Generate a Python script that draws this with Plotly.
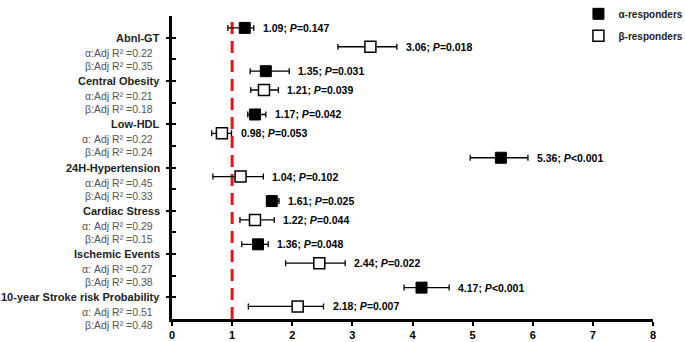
import plotly.graph_objects as go

# ---------------- data ----------------
categories = ["Abnl-GT", "Central Obesity", "Low-HDL", "24H-Hypertension",
              "Cardiac Stress", "Ischemic Events", "10-year Stroke risk Probability"]
cat_pos = [13, 11, 9, 7, 5, 3, 1]

alpha_r2 = ["α:Adj R² =0.22", "α:Adj R² =0.21", "α: Adj R² =0.22", "α:Adj R² =0.45",
            "α: Adj R² =0.29", "α: Adj R² =0.27", "α: Adj R² =0.51"]
beta_r2 = ["β:Adj R² =0.35", "β:Adj R² =0.18", "β:Adj R² =0.24", "β:Adj R² =0.33",
           "β:Adj R² =0.15", "β:Adj R² =0.38", "β:Adj R² =0.48"]

alpha_est = [1.21, 1.56, 1.38, 5.47, 1.66, 1.43, 4.15]
alpha_lo = [0.93, 1.30, 1.26, 4.96, 1.58, 1.16, 3.86]
alpha_hi = [1.36, 1.95, 1.56, 5.92, 1.78, 1.60, 4.61]
alpha_lbl = ["1.09; <i>P</i>=0.147", "1.35; <i>P</i>=0.031", "1.17; <i>P</i>=0.042",
             "5.36; <i>P</i>&lt;0.001", "1.61; <i>P</i>=0.025", "1.36; <i>P</i>=0.048",
             "4.17; <i>P</i>&lt;0.001"]

beta_est = [3.30, 1.53, 0.83, 1.14, 1.38, 2.45, 2.09]
beta_lo = [2.76, 1.31, 0.66, 0.68, 1.13, 1.89, 1.27]
beta_hi = [3.74, 1.77, 0.99, 1.52, 1.70, 2.88, 2.52]
beta_lbl = ["3.06; <i>P</i>=0.018", "1.21; <i>P</i>=0.039", "0.98; <i>P</i>=0.053",
            "1.04; <i>P</i>=0.102", "1.22; <i>P</i>=0.044", "2.44; <i>P</i>=0.022",
            "2.18; <i>P</i>=0.007"]

x_ticks = [0, 1, 2, 3, 4, 5, 6, 7, 8]
ref_value = 1

# ---------------- figure ----------------
FONT = "Arial, 'Liberation Sans', sans-serif"
a_y = [c + 0.45 for c in cat_pos]
b_y = [c - 0.42 for c in cat_pos]

fig = go.Figure()

fig.add_shape(type="line", x0=ref_value, x1=ref_value, y0=0, y1=14, xref="x", yref="y",
              line=dict(color="#e8141b", width=3, dash="12px,7px"), layer="below")

fig.add_trace(go.Scatter(
    x=alpha_est, y=a_y, mode="markers", name="α-responders", legendgroup="a",
    marker=dict(symbol="square", size=11, color="black", line=dict(color="black", width=1)),
    error_x=dict(type="data", symmetric=False,
                 array=[h - e for h, e in zip(alpha_hi, alpha_est)],
                 arrayminus=[e - l for e, l in zip(alpha_est, alpha_lo)],
                 color="black", thickness=1.3, width=3),
    cliponaxis=False))

fig.add_trace(go.Scatter(
    x=beta_est, y=b_y, mode="markers", name="β-responders", legendgroup="b",
    marker=dict(symbol="square", size=11, color="white", line=dict(color="black", width=1.5)),
    error_x=dict(type="data", symmetric=False,
                 array=[h - e for h, e in zip(beta_hi, beta_est)],
                 arrayminus=[e - l for e, l in zip(beta_est, beta_lo)],
                 color="black", thickness=1.3, width=3),
    cliponaxis=False))

ann = []
for x, y, t in zip(alpha_hi, a_y, alpha_lbl):
    ann.append(dict(x=x, y=y, xref="x", yref="y", text=f"<b>{t}</b>", showarrow=False,
                    xanchor="left", yanchor="middle", xshift=7,
                    font=dict(size=10.5, color="black", family=FONT)))
for x, y, t in zip(beta_hi, b_y, beta_lbl):
    ann.append(dict(x=x, y=y, xref="x", yref="y", text=f"<b>{t}</b>", showarrow=False,
                    xanchor="left", yanchor="middle", xshift=7,
                    font=dict(size=10.5, color="black", family=FONT)))
for c, p, ar, br in zip(categories, cat_pos, alpha_r2, beta_r2):
    ann.append(dict(x=0, y=p, xref="paper", yref="y", text=f"<b>{c}</b>", showarrow=False,
                    xanchor="right", yanchor="middle", xshift=-10,
                    font=dict(size=11, color="#222", family=FONT)))
    ann.append(dict(x=0, y=p, xref="paper", yref="y", text=ar, showarrow=False,
                    xanchor="right", yanchor="middle", xshift=-17, yshift=-15,
                    font=dict(size=10.5, color="#555", family=FONT)))
    ann.append(dict(x=0, y=p, xref="paper", yref="y", text=br, showarrow=False,
                    xanchor="right", yanchor="middle", xshift=-17, yshift=-28,
                    font=dict(size=10.5, color="#555", family=FONT)))

fig.update_layout(
    width=685, height=342,
    margin=dict(l=172, r=32, t=16, b=23, autoexpand=False),
    paper_bgcolor="white", plot_bgcolor="white",
    font=dict(family=FONT, color="black"),
    annotations=ann,
    showlegend=True,
    legend=dict(x=0.845, y=1.055, xanchor="left", yanchor="top",
                font=dict(size=10, color="#222", family=FONT, weight="bold"),
                bgcolor="rgba(0,0,0,0)", tracegroupgap=3),
    xaxis=dict(range=[0, 8], tickvals=x_ticks, ticktext=[f"<b>{v}</b>" for v in x_ticks],
               showline=True, linecolor="black", linewidth=2.5, ticks="outside",
               ticklen=4, tickwidth=2, tickcolor="black", showgrid=False, zeroline=False,
               tickfont=dict(size=11, color="black", family=FONT)),
    yaxis=dict(range=[0, 14], tickvals=list(range(0, 15)), showticklabels=False,
               showline=True, linecolor="black", linewidth=2.5, ticks="inside",
               ticklen=4, tickwidth=2, tickcolor="black", showgrid=False, zeroline=False,
               minor=dict(tickvals=cat_pos + [14], ticks="outside", ticklen=3,
                          tickwidth=2, tickcolor="black", showgrid=False)),
)

fig.write_html("out.html", config={"displayModeBar": False},
               post_script="document.body.style.margin='0';document.body.style.padding='0';")
